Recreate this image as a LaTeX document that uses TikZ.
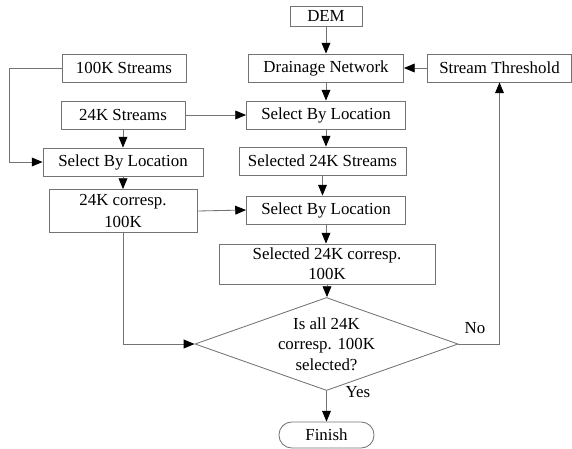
\documentclass[tikz,border=0pt]{standalone}
\usepackage{fontspec}
\setmainfont{Liberation Serif}
\usetikzlibrary{shapes.geometric,arrows.meta}

\begin{document}
\begin{tikzpicture}[x=0.025cm,y=-0.025cm,
	box/.style={draw=black!55,line width=0.6pt,inner sep=1pt,minimum height=0.7cm,text=black,
		font=\fontsize{12}{14.5}\selectfont,align=center},
	link/.style={draw=black!55,line width=0.6pt,->},
	>={Triangle[length=2.7mm,width=2.2mm,color=black]}]
	\useasboundingbox (0,0) rectangle (572,448);
	
	%MIDDLE COLUMN
	\node[box,minimum width=1.8cm,minimum height=0.5cm] (dem) at (326,16) {DEM};
	\node[box,minimum width=3.875cm] (drain) at (326,68) {Drainage Network};
	\node[box,minimum width=3.975cm] (sbl2) at (326,115) {Select By Location};
	\node[box,minimum width=4.175cm] (sel24) at (322.5,161) {Selected 24K Streams};
	\node[box,minimum width=3.975cm] (sbl3) at (326,210) {Select By Location};
	\node[box,minimum width=5.4cm,minimum height=1cm] (selc) at (327,264) {Selected 24K corresp.\\100K};
	\node[box,diamond,inner sep=0pt,aspect=2.83,minimum width=6.575cm,minimum height=2.325cm] (dec) at (326.5,344) {Is all 24K\\corresp. 100K\\selected?};
	\node[box,rounded corners=0.32cm,minimum width=2.375cm,minimum height=0.65cm] (fin) at (326.5,435) {Finish};
	
	%LEFT COLUMN
	\node[box,minimum width=3.1cm] (s100) at (124,68) {100K Streams};
	\node[box,minimum width=3.1cm] (s24) at (123,115) {24K Streams};
	\node[box,minimum width=4cm] (sbl1) at (123,162) {Select By Location};
	\node[box,minimum width=3.7cm,minimum height=1.075cm,font=\fontsize{12}{16}\selectfont] (c24) at (123,211) {24K corresp.\\100K};
	
	%RIGHT
	\node[box,minimum width=3.6cm] (thr) at (499.5,68) {Stream Threshold};
	
	%DOWNWARD ARROWS
	\foreach \a/\b in {dem/drain,drain/sbl2,sbl2/sel24,sel24/sbl3,sbl3/selc,selc/dec,dec/fin,s24/sbl1,sbl1/c24}
	\draw[link] (\a.south) -- (\a.south |- \b.north);
	
	%SIDEWAYS ARROWS
	\draw[link] (thr.west) -- (drain.east);
	\draw[link] (s24.east) -- (sbl2.west);
	\draw[link] (c24.east) -- (sbl3.west);
	\coordinate (lft) at (9,68);
	\draw[link] (s100.west) -- (lft) |- (sbl1.west);
	\draw[link] (c24.south) |- (dec.west);
	\draw[link] (dec.east) -| (thr.south);
	
	%LABELS
	\node[font=\fontsize{12}{14.5}\selectfont] (no) at (475,328) {No};
	\node[font=\fontsize{12}{14.5}\selectfont] (yes) at (358,392) {Yes};
\end{tikzpicture}
\end{document}
